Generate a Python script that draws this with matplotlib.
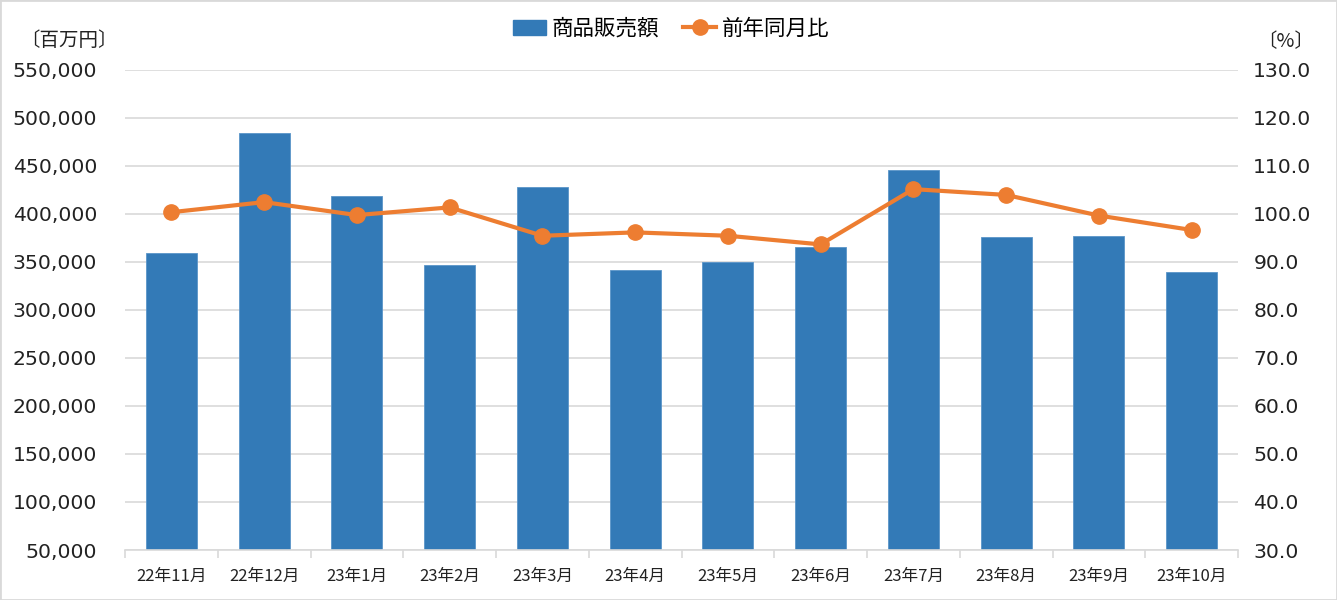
import matplotlib.pyplot as plt
import numpy as np
from matplotlib.patches import Rectangle
from matplotlib.lines import Line2D

# data
months = ['22年11月', '22年12月', '23年1月', '23年2月', '23年3月', '23年4月',
          '23年5月', '23年6月', '23年7月', '23年8月', '23年9月', '23年10月']
sales = [359000, 484000, 418000, 346500, 428000, 341000,
         350000, 365000, 445800, 375300, 376400, 339800]
yoy = [100.3, 102.4, 99.7, 101.3, 95.4, 96.1, 95.4, 93.6, 105.1, 103.9, 99.6, 96.6]
left_ticks = list(range(50000, 550001, 50000))
right_ticks = [30.0, 40.0, 50.0, 60.0, 70.0, 80.0, 90.0, 100.0, 110.0, 120.0, 130.0]

jp = ['Noto Sans CJK JP', 'DejaVu Sans']
plt.rcParams['font.family'] = jp

fig = plt.figure(figsize=(13.37, 6), dpi=100)
ax = fig.add_axes([125/1337, 50/600, (1238-125)/1337, (550-69.5)/600])
x = np.arange(len(months))

ax.set_axisbelow(True)
ax.bar(x, sales, width=0.55, color='#337ab7', edgecolor='#5b95c9', linewidth=0.6, zorder=2)
ax.set_ylim(50000, 550000)
ax.set_xlim(-0.5, len(months) - 0.5)
ax.set_yticks(left_ticks)
ax.set_yticklabels([f'{v:,}' for v in left_ticks], family='DejaVu Sans', fontsize=14.7, color='#222222')
ax.grid(axis='y', color='#d9d9d9', linewidth=1.2)
ax.tick_params(axis='y', length=0, pad=20)
ax.set_xticks(x)
ax.set_xticklabels(months, fontsize=12, color='#222222')
ax.set_xticks(np.arange(-0.5, len(months), 1), minor=True)
ax.tick_params(axis='x', which='major', length=0, pad=13)
ax.tick_params(axis='x', which='minor', length=6, color='#d9d9d9', width=1.2)
for s in ['top', 'left', 'right']:
    ax.spines[s].set_visible(False)
ax.spines['bottom'].set_color('#d9d9d9')
ax.spines['bottom'].set_linewidth(1.2)

ax2 = ax.twinx()
ax2.plot(x, yoy, color='#ed7d31', linewidth=3, marker='o', markersize=11, zorder=3)
ax2.set_ylim(30, 130)
ax2.set_yticks(right_ticks)
ax2.set_yticklabels([f'{v:.1f}' for v in right_ticks], family='DejaVu Sans', fontsize=14.7, color='#222222')
ax2.tick_params(axis='y', length=0, pad=11)
for s in ['top', 'left', 'right', 'bottom']:
    ax2.spines[s].set_visible(False)

fig.text(20/1337, 1 - 41/600, '〔百万円〕', fontsize=14, va='center', ha='left', color='#222222')
fig.text(1314/1337, 1 - 42/600, '〔%〕', fontsize=14, va='center', ha='right', color='#222222')

handles = [Rectangle((0, 0), 1, 1, color='#337ab7'),
           Line2D([], [], color='#ed7d31', linewidth=3, marker='o', markersize=11)]
fig.legend(handles, ['商品販売額', '前年同月比'], loc='center', bbox_to_anchor=(671/1337, 1 - 29/600),
           ncol=2, frameon=False, fontsize=15.5, handlelength=1.55, columnspacing=1.1, handletextpad=0.25)

fig.patches.append(Rectangle((0, 0), 1, 1, transform=fig.transFigure, fill=False,
                             edgecolor='#d9d9d9', linewidth=2))
fig.savefig('out.png', dpi=100)
